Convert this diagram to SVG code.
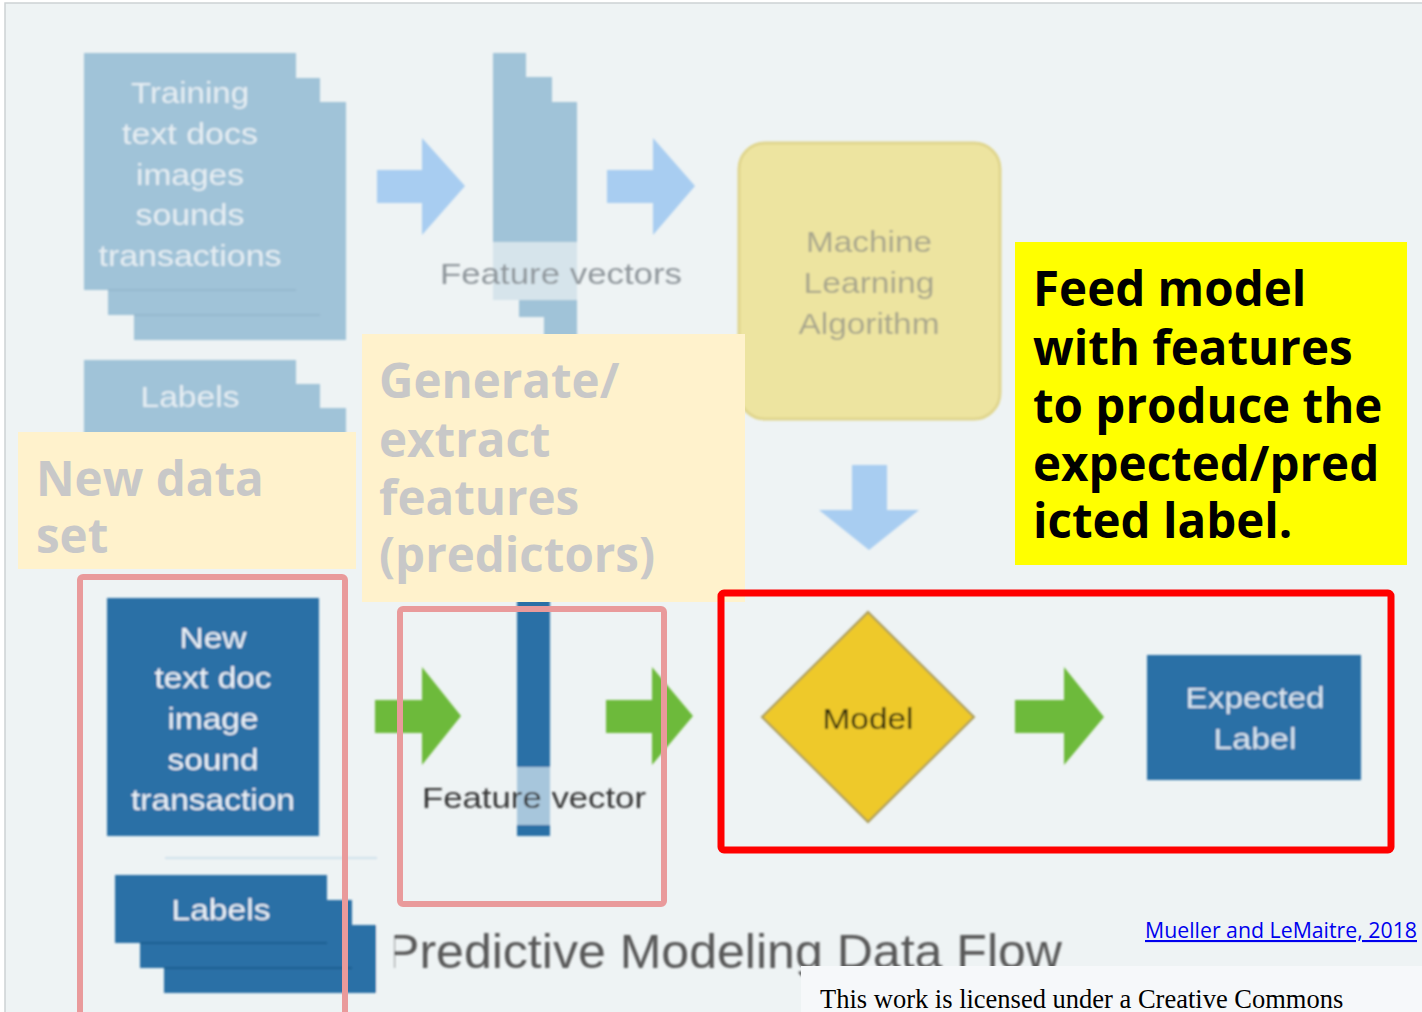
<svg xmlns="http://www.w3.org/2000/svg" width="1422" height="1012" viewBox="0 0 1422 1012">
  <defs>
    <filter id="soft" x="-5%" y="-5%" width="110%" height="110%">
      <feGaussianBlur stdDeviation="0.8"/>
    </filter>
    <style>
      .pale { fill: #a0c3d8; }
      .paleEdge { stroke: #90b5cb; stroke-width: 1.5; }
      .deep { fill: #2b70a6; }
      .deepEdge { stroke: #1f5e90; stroke-width: 2; }
      .slide { font-family: "Liberation Sans", Arial, sans-serif; font-size: 30px; text-anchor: middle; }
      .onPale { fill: #e6eef3; }
      .onDeep { fill: #eef3f8; }
      .note { font-family: "Open Sans", "Noto Sans", sans-serif; font-weight: bold; font-size: 47.5px; fill: #c8c8c8; }
      .callout { font-family: "Open Sans", "Noto Sans", sans-serif; font-weight: bold; font-size: 47.5px; fill: #000000; }
      .arrowBlue { fill: #a8cdf1; }
      .arrowGreen { fill: #6dba3a; }
      .frame { fill: none; stroke: #e99a9b; stroke-width: 6; }
    </style>
  </defs>

  <!-- page -->
  <rect x="0" y="0" width="1422" height="1012" fill="#ffffff"/>
  <rect x="5" y="3" width="1420" height="1012" fill="#eef3f4" stroke="#cdd2d4" stroke-width="1.5"/>

  <g filter="url(#soft)">
    <!-- stacked training documents -->
    <g id="training-docs">
      <rect class="pale" x="134" y="102" width="212" height="238"/>
      <rect class="pale" x="108" y="78" width="212" height="237"/>
      <line class="paleEdge" x1="134" y1="315" x2="320" y2="315"/>
      <rect class="pale" x="84" y="53" width="212" height="237"/>
      <line class="paleEdge" x1="108" y1="290" x2="296" y2="290"/>
      <text class="slide onPale" x="190" y="103" textLength="118" lengthAdjust="spacingAndGlyphs">Training</text>
      <text class="slide onPale" x="190" y="144" textLength="136" lengthAdjust="spacingAndGlyphs">text docs</text>
      <text class="slide onPale" x="190" y="185" textLength="108" lengthAdjust="spacingAndGlyphs">images</text>
      <text class="slide onPale" x="190" y="225" textLength="109" lengthAdjust="spacingAndGlyphs">sounds</text>
      <text class="slide onPale" x="190" y="266" textLength="183" lengthAdjust="spacingAndGlyphs">transactions</text>
    </g>

    <!-- stacked training labels -->
    <g id="training-labels">
      <rect class="pale" x="134" y="408" width="212" height="40"/>
      <rect class="pale" x="108" y="384" width="212" height="60"/>
      <rect class="pale" x="84" y="360" width="212" height="80"/>
      <text class="slide onPale" x="190" y="407" textLength="99" lengthAdjust="spacingAndGlyphs">Labels</text>
    </g>

    <!-- stacked feature vectors -->
    <g id="feature-vectors">
      <rect class="pale" x="544" y="102" width="33" height="240"/>
      <rect class="pale" x="519" y="77" width="33" height="240"/>
      <rect class="pale" x="493" y="53" width="33" height="240"/>
      <rect x="493" y="242" width="84" height="58" fill="#d6e4eb"/>
      <text class="slide" x="561" y="284" fill="#8f969b" textLength="242" lengthAdjust="spacingAndGlyphs">Feature vectors</text>
    </g>

    <!-- learning algorithm -->
    <g id="ml-algorithm">
      <rect x="739" y="143" width="261" height="276" rx="26" fill="#ede4a0" stroke="#e0d68e" stroke-width="3"/>
      <text class="slide" x="869" y="252" fill="#a8a68c" textLength="126" lengthAdjust="spacingAndGlyphs">Machine</text>
      <text class="slide" x="869" y="293" fill="#a8a68c" textLength="131" lengthAdjust="spacingAndGlyphs">Learning</text>
      <text class="slide" x="869" y="334" fill="#a8a68c" textLength="141" lengthAdjust="spacingAndGlyphs">Algorithm</text>
    </g>

    <!-- new input item -->
    <g id="new-data">
      <rect class="deep" x="107" y="598" width="212" height="238"/>
      <text class="slide onDeep" x="213" y="648" textLength="67" lengthAdjust="spacingAndGlyphs">New</text>
      <text class="slide onDeep" x="213" y="688" textLength="117" lengthAdjust="spacingAndGlyphs">text doc</text>
      <text class="slide onDeep" x="213" y="729" textLength="91" lengthAdjust="spacingAndGlyphs">image</text>
      <text class="slide onDeep" x="213" y="770" textLength="91" lengthAdjust="spacingAndGlyphs">sound</text>
      <text class="slide onDeep" x="213" y="810" textLength="164" lengthAdjust="spacingAndGlyphs">transaction</text>
      <line x1="165" y1="858" x2="377" y2="858" stroke="#c6dbe8" stroke-width="1.5"/>
    </g>

    <!-- stacked new labels -->
    <g id="new-labels">
      <rect class="deep" x="164" y="925" width="212" height="68"/>
      <rect class="deep" x="140" y="900" width="212" height="68"/>
      <line class="deepEdge" x1="164" y1="968" x2="352" y2="968"/>
      <rect class="deep" x="115" y="875" width="212" height="68"/>
      <line class="deepEdge" x1="140" y1="943" x2="327" y2="943"/>
      <text class="slide onDeep" x="221" y="920" textLength="99" lengthAdjust="spacingAndGlyphs">Labels</text>
    </g>

    <!-- single feature vector -->
    <g id="feature-vector">
      <rect class="deep" x="517" y="590" width="33" height="246"/>
      <rect x="517" y="767" width="33" height="58" fill="#a7c6dc"/>
      <text class="slide" x="534" y="808" fill="#363636" textLength="224" lengthAdjust="spacingAndGlyphs">Feature vector</text>
    </g>

    <!-- trained model -->
    <g id="model">
      <polygon points="868,612 974,717 868,822 762,717" fill="#eec92a" stroke="#a89a58" stroke-width="2"/>
      <text class="slide" x="868" y="729" fill="#2e2a10" textLength="91" lengthAdjust="spacingAndGlyphs">Model</text>
    </g>

    <!-- prediction output -->
    <g id="expected-label">
      <rect class="deep" x="1147" y="655" width="214" height="125"/>
      <text class="slide" x="1255" y="708" fill="#dbe6f0" textLength="139" lengthAdjust="spacingAndGlyphs">Expected</text>
      <text class="slide" x="1255" y="749" fill="#dbe6f0" textLength="83" lengthAdjust="spacingAndGlyphs">Label</text>
    </g>

    <!-- flow arrows -->
    <g id="connectors">
      <path class="arrowBlue" d="M377,170 H422 V138 L465,186 L422,235 V203 H377 Z"/>
      <path class="arrowBlue" d="M607,170 H653 V138 L695,186 L653,235 V203 H607 Z"/>
      <path class="arrowBlue" d="M852,465 H887 V510 H919 L869,550 L819,510 H852 Z"/>
      <path class="arrowGreen" d="M375,700 H422 V667 L461,716 L422,765 V733 H375 Z"/>
      <path class="arrowGreen" d="M606,700 H652 V667 L693,716 L652,765 V733 H606 Z"/>
      <path class="arrowGreen" d="M1015,700 H1064 V667 L1104,717 L1064,765 V733 H1015 Z"/>
    </g>

    <!-- slide title, its first letter partly hidden by the cropped edge -->
    <g id="title">
      <text x="386" y="968" font-family="'Liberation Sans', Arial, sans-serif" font-size="48" fill="#585858" textLength="676" lengthAdjust="spacingAndGlyphs">Predictive Modeling Data Flow</text>
      <rect x="377" y="920" width="17" height="80" fill="#eef3f4"/>
    </g>
  </g>

  <!-- annotation boxes -->
  <g id="note-new-data">
    <rect x="18" y="432" width="338" height="137" fill="#fff2cc"/>
    <text class="note" x="36" y="496">New data</text>
    <text class="note" x="36" y="553">set</text>
  </g>

  <g id="note-features">
    <rect x="362" y="334" width="383" height="268" fill="#fff2cc"/>
    <text class="note" x="379" y="398">Generate/</text>
    <text class="note" x="379" y="457">extract</text>
    <text class="note" x="379" y="515">features</text>
    <text class="note" x="379" y="572">(predictors)</text>
  </g>

  <g id="note-predict">
    <rect x="1015" y="242" width="392" height="323" fill="#ffff00"/>
    <text class="callout" x="1033" y="306">Feed model</text>
    <text class="callout" x="1033" y="365">with features</text>
    <text class="callout" x="1033" y="423">to produce the</text>
    <text class="callout" x="1033" y="481">expected/pred</text>
    <text class="callout" x="1033" y="538">icted label.</text>
  </g>

  <!-- highlight frames -->
  <g id="frames">
    <rect class="frame" x="80" y="577" width="265" height="450" rx="3"/>
    <rect class="frame" x="400" y="609" width="264" height="295" rx="3"/>
    <rect x="721" y="593" width="670" height="257" rx="3" fill="none" stroke="#ff0000" stroke-width="7"/>
  </g>

  <!-- citation -->
  <g id="citation">
    <text x="1145" y="938" font-family="'Open Sans', 'Noto Sans', sans-serif" font-size="21" fill="#0000ee" text-decoration="underline" textLength="272" lengthAdjust="spacingAndGlyphs">Mueller and LeMaitre, 2018</text>
  </g>

  <g id="license">
    <rect x="801" y="966" width="625" height="50" fill="#f6f8fa"/>
    <text x="820" y="1008" font-family="'Liberation Serif', 'Times New Roman', serif" font-size="26.5" fill="#000000">This work is licensed under a Creative Commons</text>
  </g>
</svg>
